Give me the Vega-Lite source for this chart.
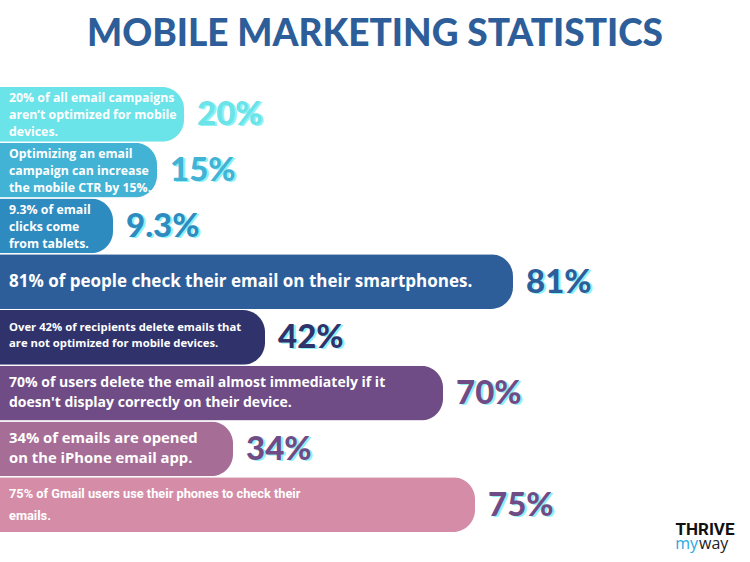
{
  "$schema": "https://vega.github.io/schema/vega-lite/v6.json",
  "width": 750,
  "height": 445,
  "autosize": {"type": "none"},
  "padding": {"top": 87, "left": 0, "right": 0, "bottom": 30},
  "background": "white",
  "config": {"view": {"stroke": null}},
  "title": {
    "text": "MOBILE MARKETING STATISTICS",
    "anchor": "middle",
    "font": "Lato",
    "fontWeight": 900,
    "fontSize": 37,
    "color": "#2D5E99",
    "baseline": "alphabetic",
    "offset": 4
  },
  "data": {
    "values": [
      {"id": 1, "stat": "20% of all email campaigns\naren’t optimized for mobile\ndevices.", "label": "20%", "barEnd": 184},
      {"id": 2, "stat": "Optimizing an email\ncampaign can increase\nthe mobile CTR by 15%.", "label": "15%", "barEnd": 157},
      {"id": 3, "stat": "9.3% of email\nclicks come\nfrom tablets.", "label": "9.3%", "barEnd": 113},
      {"id": 4, "stat": "81% of people check their email on their smartphones.", "label": "81%", "barEnd": 513},
      {"id": 5, "stat": "Over 42% of recipients delete emails that\nare not optimized for mobile devices.", "label": "42%", "barEnd": 265},
      {"id": 6, "stat": "70% of users delete the email almost immediately if it\ndoesn't display correctly on their device.", "label": "70%", "barEnd": 443},
      {"id": 7, "stat": "34% of emails are opened\non the iPhone email app.", "label": "34%", "barEnd": 233},
      {"id": 8, "stat": "75% of Gmail users use their phones to check their\nemails.", "label": "75%", "barEnd": 475}
    ]
  },
  "encoding": {
    "y": {"field": "id", "type": "ordinal", "axis": null, "scale": {"paddingInner": 0.02, "paddingOuter": 0}}
  },
  "layer": [
    {
      "mark": {"type": "bar", "cornerRadiusTopRight": 22, "cornerRadiusBottomRight": 22},
      "encoding": {
        "x": {"field": "barEnd", "type": "quantitative", "axis": null, "scale": {"domain": [0, 750], "nice": false, "zero": true}},
        "color": {"field": "id", "type": "ordinal", "legend": null,
          "scale": {"domain": [1,2,3,4,5,6,7,8], "range": ["#6AE3E9", "#42B3D5", "#2E8BC0", "#2D5E99", "#30336B", "#6F4C86", "#A66D96", "#D58DA7"]}}
      }
    },
    {
      "transform": [{"filter": "datum.id <= 3"}],
      "mark": {"type": "text", "align": "left", "baseline": "middle", "dx": 9, "dy": -16, "color": "white", "font": "Open Sans", "fontWeight": "bold", "fontSize": 12.3, "lineHeight": 17, "lineBreak": "\n"},
      "encoding": {"x": {"datum": 0}, "text": {"field": "stat"}}
    },
    {
      "transform": [{"filter": "datum.id == 4"}],
      "mark": {"type": "text", "align": "left", "baseline": "middle", "dx": 9, "color": "white", "font": "Open Sans", "fontWeight": "bold", "fontSize": 17, "lineHeight": 20, "lineBreak": "\n"},
      "encoding": {"x": {"datum": 0}, "text": {"field": "stat"}}
    },
    {
      "transform": [{"filter": "datum.id == 5"}],
      "mark": {"type": "text", "align": "left", "baseline": "middle", "dx": 9, "dy": -9, "color": "white", "font": "Open Sans", "fontWeight": "bold", "fontSize": 11.3, "lineHeight": 16, "lineBreak": "\n"},
      "encoding": {"x": {"datum": 0}, "text": {"field": "stat"}}
    },
    {
      "transform": [{"filter": "datum.id == 6"}],
      "mark": {"type": "text", "align": "left", "baseline": "middle", "dx": 9, "dy": -10, "color": "white", "font": "Open Sans", "fontWeight": "bold", "fontSize": 14, "lineHeight": 20, "lineBreak": "\n"},
      "encoding": {"x": {"datum": 0}, "text": {"field": "stat"}}
    },
    {
      "transform": [{"filter": "datum.id == 7"}],
      "mark": {"type": "text", "align": "left", "baseline": "middle", "dx": 9, "dy": -10, "color": "white", "font": "Open Sans", "fontWeight": "bold", "fontSize": 14.8, "lineHeight": 20, "lineBreak": "\n"},
      "encoding": {"x": {"datum": 0}, "text": {"field": "stat"}}
    },
    {
      "transform": [{"filter": "datum.id == 8"}],
      "mark": {"type": "text", "align": "left", "baseline": "middle", "dx": 9, "dy": -11, "color": "white", "font": "Roboto", "fontWeight": "bold", "fontSize": 12.8, "lineHeight": 22, "lineBreak": "\n"},
      "encoding": {"x": {"datum": 0}, "text": {"field": "stat"}}
    },
    {
      "mark": {"type": "text", "align": "left", "baseline": "middle", "dx": 15, "dy": 2, "color": "#8EF1F5", "font": "Lato", "fontWeight": 900, "fontSize": 33},
      "encoding": {"x": {"field": "barEnd", "type": "quantitative"}, "text": {"field": "label"}}
    },
    {
      "mark": {"type": "text", "align": "left", "baseline": "middle", "dx": 13, "dy": 1, "font": "Lato", "fontWeight": 900, "fontSize": 33},
      "encoding": {
        "x": {"field": "barEnd", "type": "quantitative"},
        "text": {"field": "label"},
        "color": {"field": "id", "type": "ordinal", "legend": null,
          "scale": {"domain": [1,2,3,4,5,6,7,8], "range": ["#6AE3E9", "#42B3D5", "#2E8BC0", "#2D5E99", "#30336B", "#6F4C86", "#6F4C86", "#6F4C86"]}}
      }
    },
    {
      "data": {"values": [{"t": "THRIVE"}]},
      "mark": {"type": "text", "align": "center", "baseline": "middle", "dy": 25, "color": "#111111", "font": "Roboto", "fontWeight": "bold", "fontSize": 17},
      "encoding": {"x": {"datum": 705}, "y": {"datum": 8}, "text": {"field": "t"}}
    },
    {
      "data": {"values": [{"t": "my"}]},
      "mark": {"type": "text", "align": "right", "baseline": "middle", "dy": 39, "color": "#29A8E0", "font": "Open Sans", "fontSize": 16},
      "encoding": {"x": {"datum": 698}, "y": {"datum": 8}, "text": {"field": "t"}}
    },
    {
      "data": {"values": [{"t": "way"}]},
      "mark": {"type": "text", "align": "left", "baseline": "middle", "dy": 39, "color": "#222222", "font": "Open Sans", "fontSize": 16},
      "encoding": {"x": {"datum": 699}, "y": {"datum": 8}, "text": {"field": "t"}}
    }
  ],
  "resolve": {"scale": {"color": "independent"}}
}
